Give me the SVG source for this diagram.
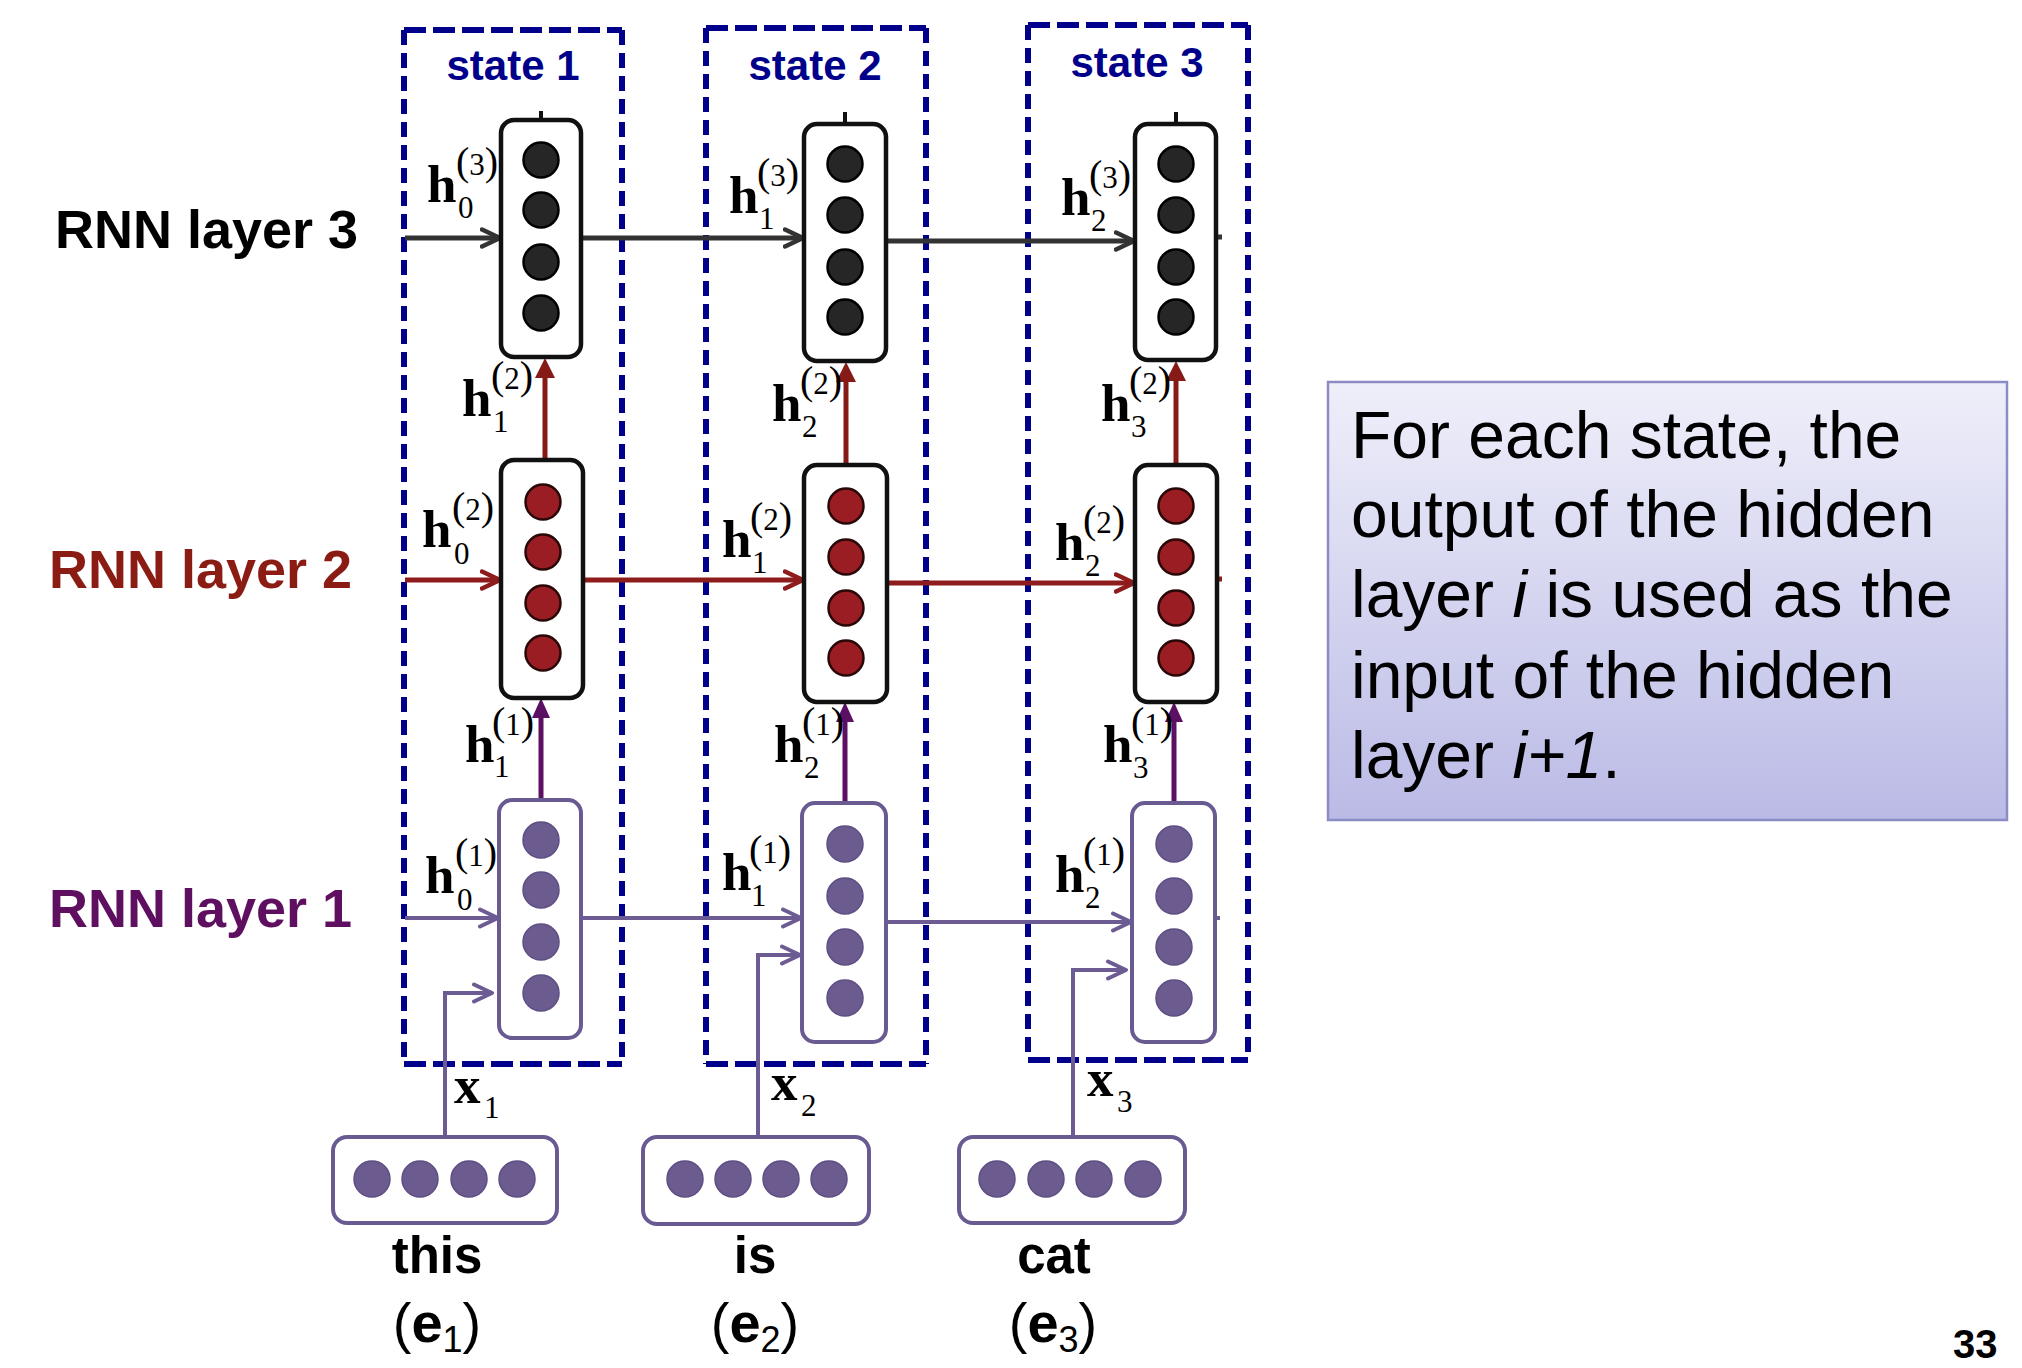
<svg xmlns="http://www.w3.org/2000/svg" width="2022" height="1368" viewBox="0 0 2022 1368">
<style>
.state{fill:none;stroke:#00008b;stroke-width:6}
.sh{stroke-dasharray:22 7}
.sv{stroke-dasharray:15 8}
.stlbl{font-family:"Liberation Sans",Arial,sans-serif;font-weight:bold;font-size:42px;fill:#00008b;text-anchor:middle}
.lay{font-family:"Liberation Sans",Arial,sans-serif;font-weight:bold;font-size:54px}
.b3{fill:#fff;stroke:#111;stroke-width:4.5}
.b2{fill:#fff;stroke:#111;stroke-width:4.5}
.b1{fill:#fff;stroke:#6a5a92;stroke-width:4}
.c3{fill:#262626;stroke:#000;stroke-width:2.5}
.c2{fill:#9a1d24;stroke:#2a0808;stroke-width:2.5}
.c1{fill:#6b5b8f;stroke:#5d4e84;stroke-width:1.5}
.hb{font-family:"Liberation Serif","Times New Roman",serif;font-weight:bold;font-size:53px;fill:#000}
.hs{font-family:"Liberation Serif","Times New Roman",serif;font-size:31px;fill:#000}
.pp{font-size:40px}
.word{font-family:"Liberation Sans",Arial,sans-serif;font-weight:bold;font-size:51px;fill:#000;text-anchor:middle}
.par{font-family:"Liberation Sans",Arial,sans-serif;font-size:56px;fill:#000}
.note{font-family:"Liberation Sans",Arial,sans-serif;font-size:66px;fill:#000}
.a3{fill:none;stroke:#333;stroke-width:5}
.a2{fill:none;stroke:#8e1c1c;stroke-width:5}
.a1{fill:none;stroke:#6c5c93;stroke-width:4}
.v2{fill:none;stroke:#861a16;stroke-width:5}
.v1{fill:none;stroke:#5c1062;stroke-width:5}
</style>
<defs>
<marker id="ch3" viewBox="0 0 22 22" refX="20" refY="11" markerWidth="22" markerHeight="22" markerUnits="userSpaceOnUse" orient="auto"><path d="M2,2.5 L20,11 L2,19.5" fill="none" stroke="#333" stroke-width="4.5" stroke-linecap="round" stroke-linejoin="round"/></marker>
<marker id="ch2" viewBox="0 0 22 22" refX="20" refY="11" markerWidth="22" markerHeight="22" markerUnits="userSpaceOnUse" orient="auto"><path d="M2,2.5 L20,11 L2,19.5" fill="none" stroke="#8e1c1c" stroke-width="4.5" stroke-linecap="round" stroke-linejoin="round"/></marker>
<marker id="ch1" viewBox="0 0 22 22" refX="20" refY="11" markerWidth="22" markerHeight="22" markerUnits="userSpaceOnUse" orient="auto"><path d="M2,2.5 L20,11 L2,19.5" fill="none" stroke="#6c5c93" stroke-width="4" stroke-linecap="round" stroke-linejoin="round"/></marker>
<marker id="tr2" viewBox="0 0 20 20" refX="0" refY="10" markerWidth="20" markerHeight="20" markerUnits="userSpaceOnUse" orient="auto"><path d="M0,0 L20,10 L0,20 Z" fill="#861a16"/></marker>
<marker id="tr1" viewBox="0 0 20 20" refX="0" refY="10" markerWidth="20" markerHeight="20" markerUnits="userSpaceOnUse" orient="auto"><path d="M0,1 L20,10 L0,19 Z" fill="#5c1062"/></marker>
<linearGradient id="ng" x1="0" y1="0" x2="0" y2="1"><stop offset="0" stop-color="#efeffa"/><stop offset="1" stop-color="#babae6"/></linearGradient>
</defs>
<rect width="2022" height="1368" fill="#fff"/>

<g id="state1">
<path class="state sh" d="M404,30 H622 M404,1064 H622"/>
<path class="state sv" d="M404,30 V1064 M622,30 V1064"/>
<text class="stlbl" x="513" y="80">state 1</text>
</g>
<g id="state2">
<path class="state sh" d="M706,28 H926 M706,1064 H926"/>
<path class="state sv" d="M706,28 V1064 M926,28 V1064"/>
<text class="stlbl" x="815" y="80">state 2</text>
</g>
<g id="state3">
<path class="state sh" d="M1028,25 H1248 M1028,1060 H1248"/>
<path class="state sv" d="M1028,25 V1060 M1248,25 V1060"/>
<text class="stlbl" x="1137" y="77">state 3</text>
</g>

<g id="layer-labels">
<text class="lay" x="55" y="248" fill="#000">RNN layer 3</text>
<text class="lay" x="49" y="588" fill="#8b1c14">RNN layer 2</text>
<text class="lay" x="49" y="927" fill="#5e0f60">RNN layer 1</text>
</g>

<g id="connectors">
<path d="M541,111 V120 M845,112 V124 M1176,112 V124" fill="none" stroke="#111" stroke-width="4"/>
<path class="a3" d="M405,238 H500" marker-end="url(#ch3)"/>
<path class="a3" d="M582,238 H803" marker-end="url(#ch3)"/>
<path class="a3" d="M887,241 H1134" marker-end="url(#ch3)"/>
<path class="a3" d="M1216,237 H1222"/>
<path class="a2" d="M405,580 H500" marker-end="url(#ch2)"/>
<path class="a2" d="M583,580 H803" marker-end="url(#ch2)"/>
<path class="a2" d="M888,583 H1134" marker-end="url(#ch2)"/>
<path class="a2" d="M1217,579 H1222"/>
<path class="a1" d="M405,918 H498" marker-end="url(#ch1)"/>
<path class="a1" d="M581,918 H801" marker-end="url(#ch1)"/>
<path class="a1" d="M886,922 H1131" marker-end="url(#ch1)"/>
<path class="a1" d="M1215,918 H1220"/>
<path class="a1" d="M445,1137 V993 H492" marker-end="url(#ch1)"/>
<path class="a1" d="M758,1137 V955 H800" marker-end="url(#ch1)"/>
<path class="a1" d="M1073,1137 V970 H1126" marker-end="url(#ch1)"/>
<path class="v2" d="M545,460 V378" marker-end="url(#tr2)"/>
<path class="v2" d="M846,465 V382" marker-end="url(#tr2)"/>
<path class="v2" d="M1176,465 V381" marker-end="url(#tr2)"/>
<path class="v1" d="M541,800 V718" marker-end="url(#tr1)"/>
<path class="v1" d="M845,803 V722" marker-end="url(#tr1)"/>
<path class="v1" d="M1174,803 V722" marker-end="url(#tr1)"/>
</g>

<g id="l3-s1"><rect class="b3" x="501" y="120" width="80" height="237" rx="13"/>
<circle class="c3" cx="541" cy="160" r="17.5"/><circle class="c3" cx="541" cy="210" r="17.5"/><circle class="c3" cx="541" cy="262" r="17.5"/><circle class="c3" cx="541" cy="313" r="17.5"/></g>
<g id="l3-s2"><rect class="b3" x="804" y="124" width="82" height="237" rx="13"/>
<circle class="c3" cx="845" cy="164" r="17.5"/><circle class="c3" cx="845" cy="215" r="17.5"/><circle class="c3" cx="845" cy="267" r="17.5"/><circle class="c3" cx="845" cy="317" r="17.5"/></g>
<g id="l3-s3"><rect class="b3" x="1135" y="124" width="81" height="236" rx="13"/>
<circle class="c3" cx="1176" cy="164" r="17.5"/><circle class="c3" cx="1176" cy="215" r="17.5"/><circle class="c3" cx="1176" cy="267" r="17.5"/><circle class="c3" cx="1176" cy="317" r="17.5"/></g>

<g id="l2-s1"><rect class="b2" x="501" y="460" width="82" height="238" rx="13"/>
<circle class="c2" cx="543" cy="502" r="17.5"/><circle class="c2" cx="543" cy="552" r="17.5"/><circle class="c2" cx="543" cy="603" r="17.5"/><circle class="c2" cx="543" cy="653" r="17.5"/></g>
<g id="l2-s2"><rect class="b2" x="804" y="465" width="83" height="237" rx="13"/>
<circle class="c2" cx="846" cy="506" r="17.5"/><circle class="c2" cx="846" cy="557" r="17.5"/><circle class="c2" cx="846" cy="608" r="17.5"/><circle class="c2" cx="846" cy="658" r="17.5"/></g>
<g id="l2-s3"><rect class="b2" x="1135" y="465" width="82" height="237" rx="13"/>
<circle class="c2" cx="1176" cy="506" r="17.5"/><circle class="c2" cx="1176" cy="557" r="17.5"/><circle class="c2" cx="1176" cy="608" r="17.5"/><circle class="c2" cx="1176" cy="658" r="17.5"/></g>

<g id="l1-s1"><rect class="b1" x="499" y="800" width="82" height="238" rx="13"/>
<circle class="c1" cx="541" cy="840" r="18"/><circle class="c1" cx="541" cy="890" r="18"/><circle class="c1" cx="541" cy="942" r="18"/><circle class="c1" cx="541" cy="993" r="18"/></g>
<g id="l1-s2"><rect class="b1" x="802" y="803" width="84" height="239" rx="13"/>
<circle class="c1" cx="845" cy="844" r="18"/><circle class="c1" cx="845" cy="896" r="18"/><circle class="c1" cx="845" cy="947" r="18"/><circle class="c1" cx="845" cy="998" r="18"/></g>
<g id="l1-s3"><rect class="b1" x="1132" y="803" width="83" height="239" rx="13"/>
<circle class="c1" cx="1174" cy="844" r="18"/><circle class="c1" cx="1174" cy="896" r="18"/><circle class="c1" cx="1174" cy="947" r="18"/><circle class="c1" cx="1174" cy="998" r="18"/></g>

<g id="emb1"><rect class="b1" x="333" y="1137" width="224" height="86" rx="14"/>
<circle class="c1" cx="372" cy="1179" r="18"/><circle class="c1" cx="420" cy="1179" r="18"/><circle class="c1" cx="469" cy="1179" r="18"/><circle class="c1" cx="517" cy="1179" r="18"/>
<text class="word" x="437" y="1273">this</text>
<text class="par" x="437" y="1342" text-anchor="middle">(<tspan font-weight="bold">e</tspan><tspan font-size="36" dy="10">1</tspan><tspan dy="-10">)</tspan></text></g>
<g id="emb2"><rect class="b1" x="643" y="1137" width="226" height="87" rx="14"/>
<circle class="c1" cx="685" cy="1179" r="18"/><circle class="c1" cx="733" cy="1179" r="18"/><circle class="c1" cx="781" cy="1179" r="18"/><circle class="c1" cx="829" cy="1179" r="18"/>
<text class="word" x="755" y="1273">is</text>
<text class="par" x="755" y="1342" text-anchor="middle">(<tspan font-weight="bold">e</tspan><tspan font-size="36" dy="10">2</tspan><tspan dy="-10">)</tspan></text></g>
<g id="emb3"><rect class="b1" x="959" y="1137" width="226" height="86" rx="14"/>
<circle class="c1" cx="997" cy="1179" r="18"/><circle class="c1" cx="1046" cy="1179" r="18"/><circle class="c1" cx="1094" cy="1179" r="18"/><circle class="c1" cx="1143" cy="1179" r="18"/>
<text class="word" x="1054" y="1273">cat</text>
<text class="par" x="1053" y="1342" text-anchor="middle">(<tspan font-weight="bold">e</tspan><tspan font-size="36" dy="10">3</tspan><tspan dy="-10">)</tspan></text></g>

<g id="h-labels">
<text class="hb" x="427" y="202">h</text><text class="hs" x="458" y="218">0</text><text class="hs" x="456" y="175"><tspan class="pp">(</tspan>3<tspan class="pp">)</tspan></text>
<text class="hb" x="729" y="213">h</text><text class="hs" x="759" y="229">1</text><text class="hs" x="757" y="186"><tspan class="pp">(</tspan>3<tspan class="pp">)</tspan></text>
<text class="hb" x="1061" y="215">h</text><text class="hs" x="1091" y="231">2</text><text class="hs" x="1089" y="188"><tspan class="pp">(</tspan>3<tspan class="pp">)</tspan></text>

<text class="hb" x="462" y="416">h</text><text class="hs" x="493" y="432">1</text><text class="hs" x="491" y="389"><tspan class="pp">(</tspan>2<tspan class="pp">)</tspan></text>
<text class="hb" x="772" y="421">h</text><text class="hs" x="802" y="437">2</text><text class="hs" x="800" y="394"><tspan class="pp">(</tspan>2<tspan class="pp">)</tspan></text>
<text class="hb" x="1101" y="421">h</text><text class="hs" x="1131" y="437">3</text><text class="hs" x="1129" y="394"><tspan class="pp">(</tspan>2<tspan class="pp">)</tspan></text>

<text class="hb" x="422" y="547">h</text><text class="hs" x="454" y="564">0</text><text class="hs" x="452" y="520"><tspan class="pp">(</tspan>2<tspan class="pp">)</tspan></text>
<text class="hb" x="722" y="557">h</text><text class="hs" x="752" y="573">1</text><text class="hs" x="750" y="530"><tspan class="pp">(</tspan>2<tspan class="pp">)</tspan></text>
<text class="hb" x="1055" y="560">h</text><text class="hs" x="1085" y="576">2</text><text class="hs" x="1083" y="533"><tspan class="pp">(</tspan>2<tspan class="pp">)</tspan></text>

<text class="hb" x="465" y="762">h</text><text class="hs" x="494" y="777">1</text><text class="hs" x="492" y="735"><tspan class="pp">(</tspan>1<tspan class="pp">)</tspan></text>
<text class="hb" x="774" y="762">h</text><text class="hs" x="804" y="778">2</text><text class="hs" x="802" y="735"><tspan class="pp">(</tspan>1<tspan class="pp">)</tspan></text>
<text class="hb" x="1103" y="762">h</text><text class="hs" x="1133" y="778">3</text><text class="hs" x="1131" y="735"><tspan class="pp">(</tspan>1<tspan class="pp">)</tspan></text>

<text class="hb" x="425" y="893">h</text><text class="hs" x="457" y="910">0</text><text class="hs" x="455" y="866"><tspan class="pp">(</tspan>1<tspan class="pp">)</tspan></text>
<text class="hb" x="722" y="890">h</text><text class="hs" x="751" y="906">1</text><text class="hs" x="749" y="863"><tspan class="pp">(</tspan>1<tspan class="pp">)</tspan></text>
<text class="hb" x="1055" y="892">h</text><text class="hs" x="1085" y="908">2</text><text class="hs" x="1083" y="865"><tspan class="pp">(</tspan>1<tspan class="pp">)</tspan></text>

<text class="hb" x="454" y="1103">x</text><text class="hs" x="484" y="1118">1</text>
<text class="hb" x="771" y="1100">x</text><text class="hs" x="801" y="1116">2</text>
<text class="hb" x="1087" y="1096">x</text><text class="hs" x="1117" y="1112">3</text>
</g>

<g id="note">
<rect x="1328" y="382" width="679" height="438" fill="url(#ng)" stroke="#8c8cc4" stroke-width="2.5"/>
<text class="note" x="1351" y="458">For each state, the</text>
<text class="note" x="1351" y="537">output of the hidden</text>
<text class="note" x="1351" y="617">layer <tspan font-style="italic">i</tspan> is used as the</text>
<text class="note" x="1351" y="698">input of the hidden</text>
<text class="note" x="1351" y="778">layer <tspan font-style="italic">i+1</tspan>.</text>
</g>

<g id="page-number">
<text x="1953" y="1358" font-family="'Liberation Sans',Arial,sans-serif" font-weight="bold" font-size="40" fill="#000">33</text>
</g>
</svg>
